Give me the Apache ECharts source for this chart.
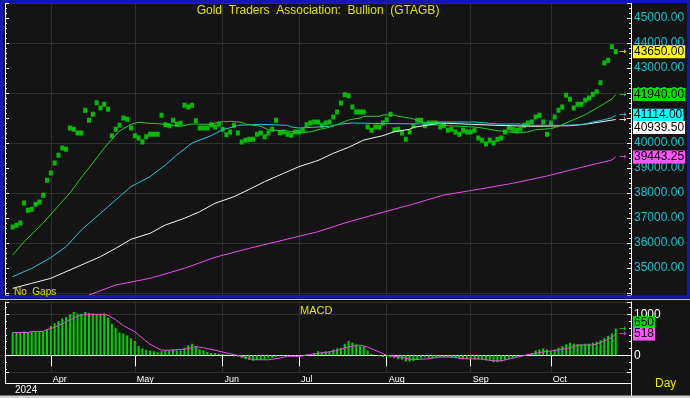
<!DOCTYPE html>
<html>
<head>
<meta charset="utf-8">
<script src="https://cdn.jsdelivr.net/npm/echarts@6/dist/echarts.min.js"></script>
<style>
  html, body { margin: 0; padding: 0; background: #141414; }
  #chart { width: 690px; height: 398px; }
</style>
</head>
<body>
<div id="chart"></div>
<script>
// trading days (no gaps): 2 empty slots before the first quote, 4 after the last
const firstDay = '2024-03-14'
const dayCount = 165
const lead = 2
const monthNames = ['Jan', 'Feb', 'Mar', 'Apr', 'May', 'Jun', 'Jul', 'Aug', 'Sep', 'Oct', 'Nov', 'Dec']

// daily closes, 18 Mar .. 24 Oct 2024
const prices = [
  36640, 36710, 36800, 37600, 37310, 37350, 37550, 37640, 37910, 38510,
  38800, 39200, 39510, 39800, 39750, 40600, 40550, 40400, 40400, 41310,
  40910, 41150, 41610, 41400, 41550, 41350, 40290, 40550, 40710, 41000,
  40950, 40600, 40290, 40200, 40040, 40250, 40350, 40350, 40350, 41110,
  40730, 40690, 40910, 40750, 40790, 41510, 41440, 41510, 40890, 40600,
  40600, 40600, 40730, 40640, 40750, 40550, 40330, 40440, 40710, 40400,
  40040, 40110, 40150, 40150, 40350, 40400, 40240, 40400, 40550, 40910,
  40410, 40440, 40350, 40310, 40440, 40440, 40510, 40730, 40800, 40840,
  40840, 40710, 40800, 40840, 41040, 41240, 41600, 41930, 41890, 41440,
  41240, 41240, 41240, 40640, 40510, 40640, 40640, 40800, 40930, 41150,
  40530, 40550, 40400, 40150, 40440, 40680, 40910, 40910, 40690, 40800,
  40800, 40800, 40640, 40690, 40510, 40550, 40440, 40350, 40510, 40440,
  40440, 40510, 40200, 40110, 39960, 40110, 40000, 40150, 40200, 40440,
  40600, 40550, 40510, 40550, 40710, 40800, 40840, 41040, 41110, 40840,
  40350, 40800, 41040, 41310, 41440, 41910, 41750, 41400, 41550, 41550,
  41710, 41800, 41950, 42050, 42410, 43200, 43310, 43850, 43650
]

// moving averages as [day, value]
const maGreen = [
  [0, 35520], [3, 36050], [8, 36800], [11, 37320], [15, 38000], [18, 38620],
  [21, 39200], [24, 39800], [26, 40150], [28, 40480], [31, 40747], [33, 40830],
  [35, 40800], [40, 40750], [44, 40667], [47, 40760], [52, 40747], [54, 40840],
  [57, 40867], [60, 40827], [61, 40760], [65, 40667], [67, 40533], [69, 40507],
  [73, 40467], [75, 40427], [78, 40440], [80, 40533], [83, 40627], [85, 40733],
  [88, 40920], [91, 41000], [92, 41067], [96, 41067], [97, 41120], [100, 41120],
  [101, 41067], [104, 41000], [105, 40960], [107, 40840], [111, 40800], [113, 40707],
  [117, 40667], [121, 40640], [123, 40600], [127, 40493], [129, 40467], [132, 40400],
  [135, 40440], [137, 40533], [141, 40573], [143, 40667], [146, 40867], [150, 41133],
  [153, 41400], [155, 41573], [157, 41760], [158, 41940]
]
const maCyan = [
  [0, 34653], [5, 34987], [10, 35413], [14, 35853], [18, 36520], [23, 37187],
  [27, 37720], [31, 38253], [36, 38653], [40, 39120], [43, 39520], [47, 40000],
  [52, 40293], [55, 40533], [58, 40650], [59, 40707], [65, 40747], [72, 40707],
  [73, 40640], [75, 40600], [80, 40640], [83, 40667], [86, 40760], [89, 40800],
  [96, 40780], [109, 40760], [112, 40840], [121, 40840], [127, 40760], [133, 40760],
  [134, 40707], [145, 40707], [148, 40733], [150, 40760], [152, 40840], [155, 40933],
  [157, 41013], [158, 41114]
]
const maWhite = [
  [0, 34187], [5, 34387], [10, 34587], [14, 34853], [18, 35120], [23, 35453],
  [27, 35787], [31, 36147], [36, 36387], [40, 36720], [45, 36987], [49, 37253],
  [53, 37587], [58, 37853], [62, 38147], [66, 38453], [71, 38787], [75, 39053],
  [80, 39300], [84, 39587], [88, 39827], [92, 40120], [97, 40293], [100, 40453],
  [104, 40547], [105, 40627], [109, 40720], [112, 40800], [120, 40750], [128, 40700],
  [137, 40667], [146, 40693], [149, 40733], [151, 40773], [155, 40867], [158, 40939.5]
]
const maMagenta = [
  [20, 33920], [27, 34320], [36, 34587], [45, 34987], [53, 35427], [62, 35787],
  [71, 36120], [80, 36453], [87, 36800], [96, 37187], [105, 37560], [113, 37920],
  [122, 38147], [131, 38387], [140, 38680], [148, 38987], [157, 39320], [158, 39443.25]
]

// MACD histogram, one value per day
const macd = [
  558, 558, 558, 583, 567, 567, 567, 567, 583,
  642, 717, 783, 833, 900, 933, 1000, 1058, 1017, 1017, 1058, 1033, 1017, 1000, 1000, 1017,
  917, 767, 667, 558, 533, 483, 417, 350, 225, 167, 133, 117, 100, 75, 100,
  117, 117, 142, 117, 117, 183, 242, 283, 225, 142, 117, 83, 58, 58, 33, 33, 17,
  -8, -25, -33, -67, -92, -117, -133, -117, -100, -92, -75, -67, -33, -8, -17, -25, -25, -25, -25, 0, 33, 33, 58,
  100, 83, 100, 100, 142, 167, 183, 283, 350, 308, 267, 225, 225, 117, 33, 0, -25, -42,
  -33, -50, -67, -92, -108, -150, -150, -133, -108, -67, -50, -67, -67, -67, -50, -50, -50, -67, -67, -83, -92, -92, -83, -92, -92,
  -108, -125, -133, -167, -167, -150, -117, -92, -67, -42, -25, 0, 33, 58, 117, 142, 167, 142,
  100, 142, 183, 225, 267, 308, 283, 267, 267, 283, 283, 308, 333, 367, 417, 475, 533, 650
]
// signal line as [day, value]
const signal = [
  [0, 558], [4, 558], [5, 583], [8, 583], [9, 625], [11, 683], [13, 767], [15, 867],
  [17, 950], [19, 1000], [24, 1000], [25, 975], [27, 867], [29, 725], [32, 575], [34, 417],
  [36, 267], [39, 125], [41, 125], [45, 150], [48, 208], [50, 183], [53, 125], [56, 58],
  [60, -25], [63, -108], [67, -108], [69, -83], [72, -25], [75, -25], [77, 0], [79, 33],
  [83, 83], [85, 117], [88, 208], [91, 250], [93, 200], [96, 83], [98, 0], [102, -50],
  [105, -108], [109, -83], [112, -42], [115, -42], [118, -83], [123, -92], [126, -133], [128, -133],
  [132, -50], [135, 17], [139, 83], [142, 117], [146, 183], [148, 250], [152, 250], [154, 308],
  [157, 433], [158, 518]
]

const priceMin = 33920
const priceMax = 45600
const priceLabelFrom = 35000
const macdMin = -407
const macdMax = 1300

function tradingDays(start, n) {
  const out = []
  const d = new Date(start + 'T00:00:00Z')
  while (out.length < n) {
    const wd = d.getUTCDay()
    if (wd !== 0 && wd !== 6) out.push(d.toISOString().slice(0, 10))
    d.setUTCDate(d.getUTCDate() + 1)
  }
  return out
}
const days = tradingDays(firstDay, dayCount)
const monthStart = (i) => i > 0 && days[i].slice(5, 7) !== days[i - 1].slice(5, 7)
const shift = (pairs) => pairs.map(([d, v]) => [d + lead, v])
const last = (pairs) => pairs[pairs.length - 1][1]

const gridColor = '#303030'
const font = 'Liberation Sans, Arial, sans-serif'

const chart = echarts.init(document.getElementById('chart'))

const priceAxis = (position, labels) => ({
  type: 'value', gridIndex: 0, position, min: priceMin, max: priceMax,
  splitNumber: 11, minInterval: 1000, maxInterval: 1000,
  axisLine: { show: true, lineStyle: { color: '#fff' } },
  axisTick: { show: true, inside: true, length: 4, lineStyle: { color: '#fff' } },
  minorTick: { show: true, splitNumber: 5, length: 2, lineStyle: { color: '#fff' } },
  axisLabel: labels
    ? {
        color: '#18c0c8', fontSize: 12, margin: 3,
        formatter: (v) => (v % 1000 === 0 && v >= priceLabelFrom ? v.toFixed(2) : '')
      }
    : { show: false },
  splitLine: { show: false }
})
const macdAxis = (position, labels) => ({
  type: 'value', gridIndex: 1, position, min: macdMin, max: macdMax,
  splitNumber: 2, minInterval: 1000, maxInterval: 1000,
  axisLine: { show: true, lineStyle: { color: '#fff' } },
  axisTick: { show: true, inside: true, length: 4, lineStyle: { color: '#fff' } },
  minorTick: { show: true, splitNumber: 6, length: 2, lineStyle: { color: '#fff' } },
  axisLabel: labels
    ? { color: '#fff', fontSize: 12, margin: 3, formatter: (v) => (v === 0 || v === 1000 ? String(v) : '') }
    : { show: false },
  splitLine: { show: labels, lineStyle: { color: gridColor } }
})

chart.setOption({
  backgroundColor: '#141414',
  animation: false,
  textStyle: { fontFamily: font },
  grid: [
    { left: 5, right: 59, top: 3, height: 292 },
    { left: 5, right: 59, top: 302, height: 70 }
  ],
  xAxis: [
    {
      type: 'category', gridIndex: 0, data: days, boundaryGap: false,
      axisLine: { show: false }, axisTick: { show: false }, axisLabel: { show: false },
      splitLine: { show: true, interval: monthStart, lineStyle: { color: gridColor } }
    },
    {
      type: 'category', gridIndex: 1, data: days, boundaryGap: false,
      axisLine: { lineStyle: { color: '#fff' } },
      axisTick: { interval: monthStart, length: 11, lineStyle: { color: '#fff' } },
      axisLabel: {
        interval: monthStart, color: '#fff', fontSize: 9, margin: 3, align: 'left',
        padding: [0, 0, 0, 2], formatter: (v) => monthNames[+v.slice(5, 7) - 1]
      },
      splitLine: { show: true, interval: monthStart, lineStyle: { color: gridColor } }
    }
  ],
  yAxis: [
    priceAxis('right', true),
    priceAxis('left', false),
    {
      type: 'value', gridIndex: 0, position: 'right', min: priceMin, max: priceMax,
      splitNumber: 5, minInterval: 2000, maxInterval: 2000,
      axisLine: { show: false }, axisTick: { show: false }, axisLabel: { show: false },
      splitLine: { show: true, lineStyle: { color: gridColor } }
    },
    macdAxis('right', true),
    macdAxis('left', false)
  ],
  series: [
    { type: 'line', xAxisIndex: 0, yAxisIndex: 0, data: shift(maMagenta), showSymbol: false, lineStyle: { color: '#e650e6', width: 1 } },
    { type: 'line', xAxisIndex: 0, yAxisIndex: 0, data: shift(maWhite), showSymbol: false, lineStyle: { color: '#f4f4f4', width: 1 } },
    { type: 'line', xAxisIndex: 0, yAxisIndex: 0, data: shift(maCyan), showSymbol: false, lineStyle: { color: '#22c8da', width: 1 } },
    { type: 'line', xAxisIndex: 0, yAxisIndex: 0, data: shift(maGreen), showSymbol: false, lineStyle: { color: '#22d022', width: 1 } },
    {
      type: 'scatter', xAxisIndex: 0, yAxisIndex: 0, symbol: 'rect', symbolSize: [4, 5],
      data: prices.map((v, i) => [i + lead, v]), itemStyle: { color: '#00e400' }
    },
    {
      type: 'bar', xAxisIndex: 1, yAxisIndex: 3, barWidth: 2,
      data: macd.map((v, i) => [i + lead, v]), itemStyle: { color: '#00d400' }
    },
    { type: 'line', xAxisIndex: 1, yAxisIndex: 3, data: shift(signal), showSymbol: false, lineStyle: { color: '#e650e6', width: 1 } }
  ]
})

// last-value tags on the right axes
const tags = [
  { v: prices[prices.length - 1], bg: '#ffff00', arrow: '#e8e800', axis: 0, dy: 0 },
  { v: last(maGreen), bg: '#00e000', arrow: '#22d022', axis: 0, dy: 0 },
  { v: last(maCyan), bg: '#00ffff', arrow: '#22c8da', axis: 0, dy: 0 },
  { v: last(maWhite), bg: '#ffffff', arrow: '#ffffff', axis: 0, dy: 8 },
  { v: last(maMagenta), bg: '#ff55ff', arrow: '#e650e6', axis: 0, dy: 0 },
  { v: macd[macd.length - 1], bg: '#00e000', arrow: '#22d022', axis: 3, dy: -6, plain: true },
  { v: last(signal), bg: '#ff55ff', arrow: '#e650e6', axis: 3, dy: 0, plain: true }
]

const graphic = [
  { type: 'rect', shape: { x: 1.5, y: 1.5, width: 687, height: 295.5 }, style: { fill: 'none', stroke: '#1616b8', lineWidth: 3 }, z: 50 },
  { type: 'line', shape: { x1: 0, y1: 299.5, x2: 690, y2: 299.5 }, style: { stroke: '#c4c4c4', lineWidth: 1 }, z: 50 },
  { type: 'rect', shape: { x: 6, y: 384, width: 625, height: 11 }, style: { fill: '#141414' }, z: 40 },
  { type: 'line', shape: { x1: 5, y1: 383.5, x2: 631, y2: 383.5 }, style: { stroke: '#fff', lineWidth: 1 }, z: 50 },
  { type: 'line', shape: { x1: 5.5, y1: 372, x2: 5.5, y2: 384 }, style: { stroke: '#fff', lineWidth: 1 }, z: 50 },
  { type: 'line', shape: { x1: 631.5, y1: 372, x2: 631.5, y2: 396 }, style: { stroke: '#fff', lineWidth: 1 }, z: 50 },
  { type: 'rect', shape: { x: 0, y: 395.5, width: 690, height: 3 }, style: { fill: '#d0d0d0' }, z: 50 },
  { type: 'text', x: 318, y: 11, style: { text: 'Gold  Traders  Association:  Bullion  (GTAGB)', fill: '#e0e000', font: '12px ' + font, align: 'center', verticalAlign: 'middle' }, z: 60 },
  { type: 'text', x: 14, y: 292, style: { text: 'No  Gaps', fill: '#e0e000', font: '10px ' + font, verticalAlign: 'middle' }, z: 60 },
  { type: 'text', x: 300, y: 311, style: { text: 'MACD', fill: '#e6e600', font: '11px ' + font, verticalAlign: 'middle' }, z: 60 },
  { type: 'text', x: 655, y: 384, style: { text: 'Day', fill: '#e6e600', font: '12px ' + font, verticalAlign: 'middle' }, z: 60 },
  { type: 'text', x: 15, y: 390, style: { text: '2024', fill: '#fff', font: '10px ' + font, verticalAlign: 'middle' }, z: 60 }
]

tags.forEach((t) => {
  const y = chart.convertToPixel({ yAxisIndex: t.axis }, t.v)
  graphic.push({
    type: 'text', x: 619, y: y, z: 60,
    style: { text: '→', fill: t.arrow, font: '9px DejaVu Sans', verticalAlign: 'middle' }
  })
  graphic.push({
    type: 'text', x: 633, y: y + t.dy, z: 60,
    style: {
      text: t.plain ? String(Math.round(t.v)) : t.v.toFixed(2),
      fill: '#000', font: '12px ' + font, verticalAlign: 'middle',
      backgroundColor: t.bg, padding: [1, 1, 0, 1]
    }
  })
})

chart.setOption({ graphic })
</script>
</body>
</html>
